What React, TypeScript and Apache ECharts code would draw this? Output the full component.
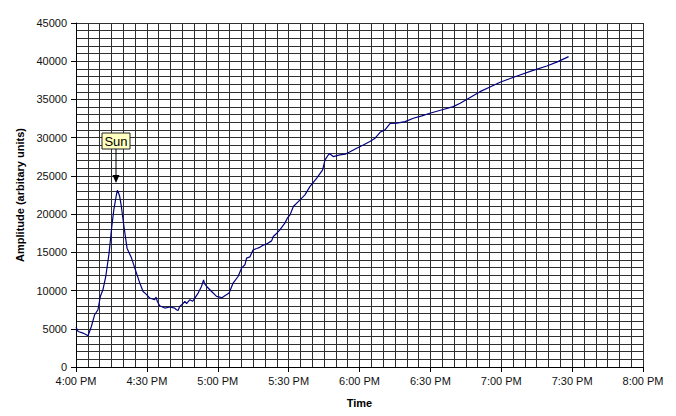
import React, { useEffect, useRef } from "react";
import * as echarts from "echarts";

// minutes after 4:00 PM
const minutes = [
  0, 0.9, 3.0, 5.1, 6.5, 7.9, 9.3, 10.3, 11.4, 12.6, 14.0, 15.0, 16.0, 17.1, 17.5, 17.8, 18.5, 19.2,
  20.3, 21.6, 23.5, 24.9, 27.0, 28.4, 29.8, 31.2, 33.3, 33.9, 34.4, 35.4, 37.6, 39.7, 41.8, 42.5,
  43.2, 43.9, 45.0, 46.1, 46.8, 48.2, 49.4, 50.3, 51.7, 53.1, 54.0, 54.4, 55.3, 57.4, 59.5, 60.9,
  61.6, 63.0, 64.8, 66.5, 68.6, 70.1, 71.5, 72.2, 73.6, 75.0, 76.5, 77.8, 79.0, 80.7, 82.8, 83.5,
  85.0, 86.3, 88.4, 89.5, 90.6, 92.0, 94.1, 96.9, 99.0, 101.9, 104.4, 105.4, 107.2, 108.9, 111.7,
  114.0, 116.0, 118.8, 121.6, 124.4, 126.6, 128.7, 130.8, 132.9, 135.8, 139.3, 142.8, 146.4, 149.8,
  155.0, 159.7, 162.6, 167.0, 171.0, 175.0, 179.5, 183.5, 187.9, 193.5, 199.3, 204.0, 208.5,
];

const amplitude = [
  5200, 4650, 4440, 4090, 5300, 6840, 7490, 9230, 10100, 11840, 14900, 17950, 20560, 22520, 23100,
  22950, 22300, 21000, 18380, 15550, 14250, 12940, 10980, 9880, 9500, 9020, 8800, 9150, 8600, 8010,
  7710, 7850, 7710, 7490, 7400, 7920, 8200, 8580, 8300, 8800, 8600, 9020, 9670, 10530, 11400, 10900,
  10530, 9880, 9230, 9150, 9020, 9320, 9670, 10980, 11840, 12940, 13370, 14250, 14400, 15330, 15500,
  15650, 15900, 16100, 16500, 17070, 17500, 17950, 18820, 19500, 19900, 20990, 21640, 22520, 23600,
  24700, 25790, 27100, 27930, 27530, 27750, 27850, 28150, 28620, 29050, 29490, 29930, 30700, 31020,
  31850, 31900, 32100, 32540, 32850, 33200, 33650, 34060, 34500, 35300, 36020, 36600, 37250, 37700,
  38200, 38800, 39380, 39950, 40600,
];

const xTickLabels = [
  "4:00 PM", "4:30 PM", "5:00 PM", "5:30 PM", "6:00 PM", "6:30 PM", "7:00 PM", "7:30 PM", "8:00 PM",
];

const annotationText = "Sun";

export default function App() {
  const ref = useRef<HTMLDivElement>(null);

  useEffect(() => {
    if (!ref.current) return;
    const chart = echarts.init(ref.current, null, { renderer: "svg" });
    const font = "'Liberation Sans', Arial, sans-serif";
    const gridColor = "#2e2e2e";
    chart.setOption({
      animation: false,
      backgroundColor: "#fff",
      textStyle: { fontFamily: font },
      grid: { left: 76, right: 33, top: 23, bottom: 49, containLabel: false },
      xAxis: {
        type: "value",
        min: 0,
        max: 240,
        interval: 30,
        name: "Time",
        nameLocation: "middle",
        nameGap: 30,
        nameTextStyle: { fontFamily: font, fontSize: 11, fontWeight: "bold", color: "#000" },
        axisLine: { show: true, lineStyle: { color: "#000", width: 1 } },
        axisTick: { show: true, length: 5, lineStyle: { color: "#000" } },
        axisLabel: {
          margin: 8,
          fontFamily: font,
          fontSize: 11,
          color: "#111",
          formatter: (v: number) => xTickLabels[Math.round(v / 30)] ?? "",
        },
        splitLine: { show: true, lineStyle: { color: gridColor, width: 1 } },
        minorTick: { show: false, splitNumber: 6 },
        minorSplitLine: { show: true, lineStyle: { color: gridColor, width: 1 } },
      },
      yAxis: {
        type: "value",
        min: 0,
        max: 45000,
        interval: 5000,
        name: "Amplitude (arbitary units)",
        nameLocation: "middle",
        nameGap: 48,
        nameRotate: 90,
        nameTextStyle: { fontFamily: font, fontSize: 11, fontWeight: "bold", color: "#000" },
        axisLine: { show: true, lineStyle: { color: "#000", width: 1 } },
        axisTick: { show: true, length: 5, lineStyle: { color: "#000" } },
        axisLabel: {
          margin: 9,
          fontFamily: font,
          fontSize: 11,
          color: "#111",
          formatter: (v: number) => String(v),
        },
        splitLine: { show: true, lineStyle: { color: gridColor, width: 1 } },
        minorTick: { show: false, splitNumber: 5 },
        minorSplitLine: { show: true, lineStyle: { color: gridColor, width: 1 } },
      },
      series: [
        {
          type: "line",
          data: minutes.map((m, i) => [m, amplitude[i]]),
          showSymbol: false,
          symbol: "none",
          lineStyle: { color: "#000080", width: 1.2 },
          z: 5,
        },
      ],
      graphic: [
        {
          type: "rect",
          z: 100,
          shape: { x: 102, y: 133, width: 28, height: 16 },
          style: { fill: "#FFFFC0", stroke: "#222", lineWidth: 1 },
        },
        {
          type: "text",
          z: 101,
          x: 116,
          y: 141.5,
          style: {
            text: annotationText,
            fontFamily: font,
            fontSize: 13,
            fill: "#000",
            align: "center",
            verticalAlign: "middle",
          },
        },
        {
          type: "line",
          z: 100,
          shape: { x1: 116, y1: 149, x2: 116, y2: 176 },
          style: { stroke: "#000", lineWidth: 1 },
        },
        {
          type: "polygon",
          z: 100,
          shape: { points: [[112.5, 175], [119.5, 175], [116, 183]] },
          style: { fill: "#000" },
        },
      ],
    });
    return () => chart.dispose();
  }, []);

  return (
    <div
      ref={ref}
      style={{ position: "fixed", left: 0, top: 0, width: 676, height: 416, background: "#fff" }}
    />
  );
}
